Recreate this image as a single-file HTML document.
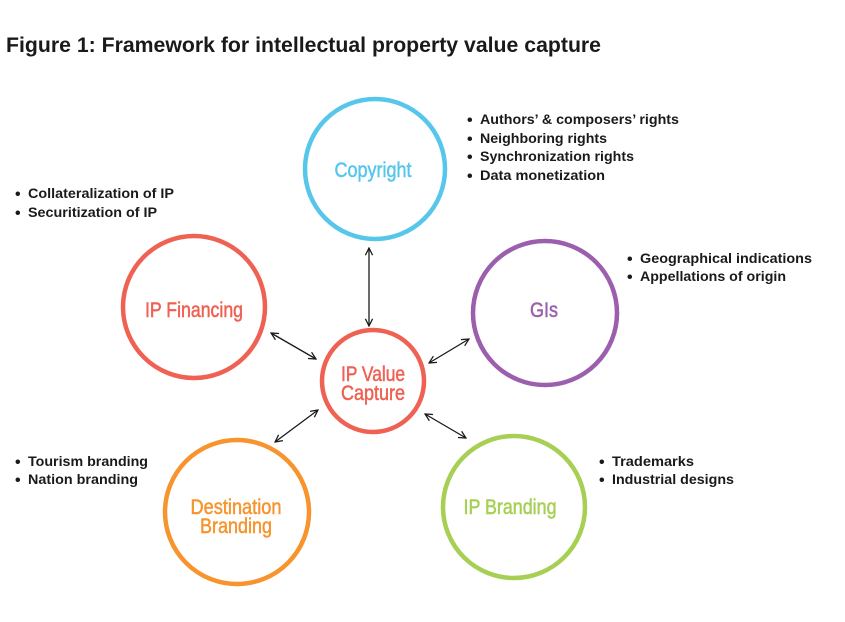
<!DOCTYPE html>
<html><head><meta charset="utf-8"><style>
html,body{margin:0;padding:0;background:#fff;width:845px;height:622px;overflow:hidden}
svg{display:block}
.b{font-family:"Liberation Sans",sans-serif;font-weight:bold;font-size:13.5px;fill:#1a1a1a}
.d{font-size:16px}
.c{font-family:"Liberation Sans Narrow","Liberation Sans",sans-serif;font-size:21px;text-anchor:middle;stroke-width:0.5}
</style></head><body>
<svg width="845" height="622" viewBox="0 0 845 622" xmlns="http://www.w3.org/2000/svg">
<defs>
<marker id="h" viewBox="0 0 10 10" refX="9" refY="5" markerWidth="9" markerHeight="9" orient="auto-start-reverse" markerUnits="userSpaceOnUse">
<path d="M1,1 L9,5 L1,9" fill="none" stroke="#1a1a1a" stroke-width="1.4"/>
</marker>
</defs>
<text x="6" y="52" font-family="Liberation Sans, sans-serif" font-weight="bold" font-size="21" fill="#1a1a1a" textLength="595" lengthAdjust="spacingAndGlyphs">Figure 1: Framework for intellectual property value capture</text>

<g fill="none" stroke-width="4.5">
<circle cx="375" cy="169" r="70" stroke="#56c7ea"/>
<circle cx="194" cy="307" r="71" stroke="#ef6153"/>
<circle cx="545" cy="313" r="72" stroke="#9b5fad"/>
<circle cx="373" cy="381" r="51" stroke="#ef6153"/>
<circle cx="237" cy="512" r="72" stroke="#f7942d"/>
<circle cx="514" cy="507" r="71" stroke="#a6cf54"/>
</g>

<g stroke="#1a1a1a" stroke-width="1.3" marker-start="url(#h)" marker-end="url(#h)">
<line x1="369" y1="248" x2="369" y2="326"/>
<line x1="271" y1="333" x2="316" y2="359"/>
<line x1="429" y1="363" x2="469" y2="339"/>
<line x1="275" y1="442" x2="318" y2="410"/>
<line x1="425" y1="414" x2="466" y2="438"/>
</g>

<text class="c" x="373" y="177" fill="#56c7ea" stroke="#56c7ea" textLength="77" lengthAdjust="spacingAndGlyphs">Copyright</text>
<text class="c" x="194" y="317" fill="#ef6153" stroke="#ef6153" textLength="98" lengthAdjust="spacingAndGlyphs">IP Financing</text>
<text class="c" x="544" y="317" fill="#9b5fad" stroke="#9b5fad" textLength="28" lengthAdjust="spacingAndGlyphs">GIs</text>
<text class="c" x="373" y="381" fill="#ef6153" stroke="#ef6153" textLength="64" lengthAdjust="spacingAndGlyphs">IP Value</text>
<text class="c" x="373" y="400" fill="#ef6153" stroke="#ef6153" textLength="64" lengthAdjust="spacingAndGlyphs">Capture</text>
<text class="c" x="236" y="514" fill="#f7942d" stroke="#f7942d" textLength="91" lengthAdjust="spacingAndGlyphs">Destination</text>
<text class="c" x="236" y="533" fill="#f7942d" stroke="#f7942d" textLength="72" lengthAdjust="spacingAndGlyphs">Branding</text>
<text class="c" x="510" y="514" fill="#a6cf54" stroke="#a6cf54" textLength="93" lengthAdjust="spacingAndGlyphs">IP Branding</text>

<g class="b">
<text class="d" x="467" y="125">•</text><text x="480" y="124" textLength="199" lengthAdjust="spacingAndGlyphs">Authors’ &amp; composers’ rights</text>
<text class="d" x="467" y="144">•</text><text x="480" y="143" textLength="127" lengthAdjust="spacingAndGlyphs">Neighboring rights</text>
<text class="d" x="467" y="162">•</text><text x="480" y="161" textLength="154" lengthAdjust="spacingAndGlyphs">Synchronization rights</text>
<text class="d" x="467" y="181">•</text><text x="480" y="180" textLength="125" lengthAdjust="spacingAndGlyphs">Data monetization</text>

<text class="d" x="627" y="264">•</text><text x="640" y="263" textLength="172" lengthAdjust="spacingAndGlyphs">Geographical indications</text>
<text class="d" x="627" y="282">•</text><text x="640" y="281" textLength="146" lengthAdjust="spacingAndGlyphs">Appellations of origin</text>

<text class="d" x="15" y="199">•</text><text x="28" y="198" textLength="146" lengthAdjust="spacingAndGlyphs">Collateralization of IP</text>
<text class="d" x="15" y="218">•</text><text x="28" y="217" textLength="129" lengthAdjust="spacingAndGlyphs">Securitization of IP</text>

<text class="d" x="15" y="467">•</text><text x="28" y="466" textLength="120" lengthAdjust="spacingAndGlyphs">Tourism branding</text>
<text class="d" x="15" y="485">•</text><text x="28" y="484" textLength="110" lengthAdjust="spacingAndGlyphs">Nation branding</text>

<text class="d" x="599" y="467">•</text><text x="612" y="466" textLength="82" lengthAdjust="spacingAndGlyphs">Trademarks</text>
<text class="d" x="599" y="485">•</text><text x="612" y="484" textLength="122" lengthAdjust="spacingAndGlyphs">Industrial designs</text>
</g>
</svg>
</body></html>
